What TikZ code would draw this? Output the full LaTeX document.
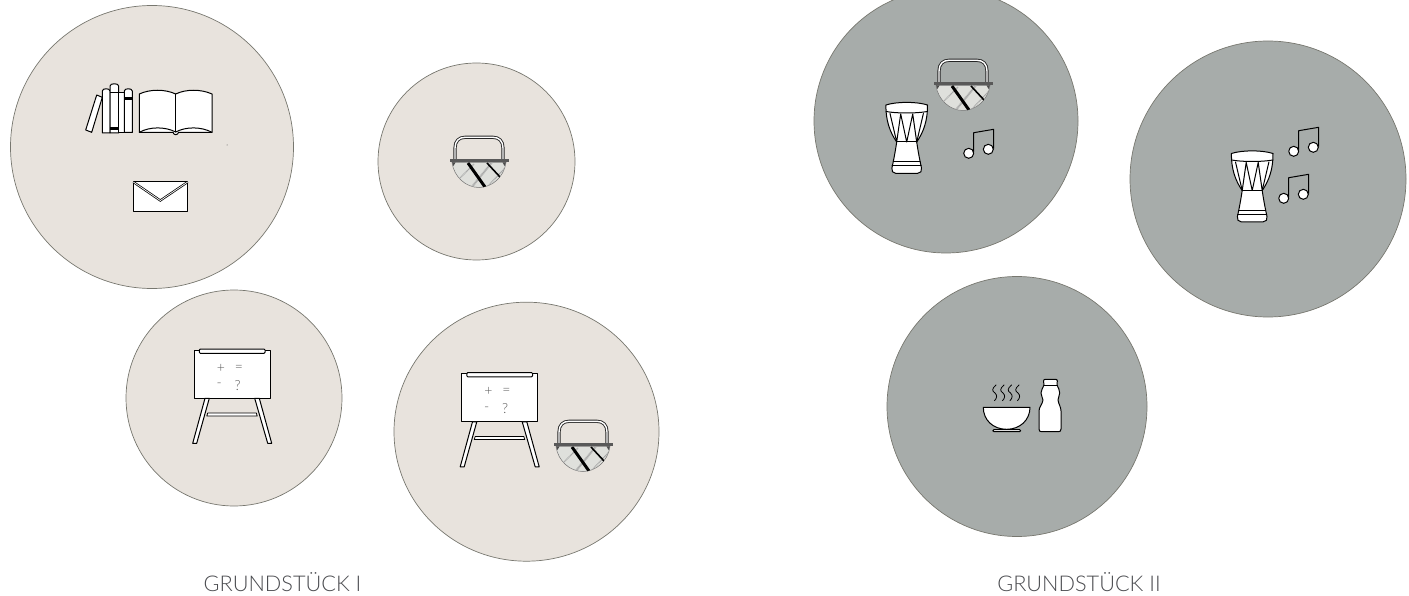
\documentclass[tikz,border=0pt]{standalone}
\usepackage{fontspec}
\usetikzlibrary{shapes.geometric}
\setmainfont{Lato Light}
\definecolor{lightfill}{HTML}{E8E3DD}
\definecolor{darkfill}{HTML}{A7ACAA}
\definecolor{rimgray}{HTML}{77776F}
\definecolor{labelgray}{HTML}{4A4B4F}
\definecolor{basketgray}{HTML}{DFE0DC}
\tikzset{
  x=1pt,y=-1pt,
  plate/.style={circle,draw=rimgray,line width=0.7pt,inner sep=0pt},
  lightplate/.style={plate,fill=lightfill},
  darkplate/.style={plate,fill=darkfill},
  ink/.style={draw=black,fill=white,line width=1pt,line join=round,line cap=round},
  inkline/.style={draw=black,line width=1pt,line cap=round,line join=round},
  caption/.style={text=labelgray,font=\fontsize{21.7}{24}\selectfont,inner sep=0pt},
  boardtext/.style={text=black!65,font=\fontsize{14}{15}\selectfont,inner sep=0pt},
  basket/.pic={
    \draw[line width=3.2pt,draw=black!85,line cap=butt] (-24,0) -- (-24,-12) .. controls (-24,-19) and (-20,-22.7) .. (-14,-22.7) -- (14,-22.7) .. controls (20,-22.7) and (24,-19) .. (24,-12) -- (24,0);
    \draw[line width=1.4pt,draw=white] (-24,0) -- (-24,-12) .. controls (-24,-19) and (-20,-22.7) .. (-14,-22.7) -- (14,-22.7) .. controls (20,-22.7) and (24,-19) .. (24,-12) -- (24,0);
    \fill[basketgray,draw=black!55,line width=.5pt] (-27,2.5) .. controls (-25,17) and (-13,27.5) .. (0,27.5) .. controls (13,27.5) and (25,17) .. (27,2.5) -- cycle;
    \begin{scope}
      \clip (-27,2.5) .. controls (-25,17) and (-13,27.5) .. (0,27.5) .. controls (13,27.5) and (25,17) .. (27,2.5) -- cycle;
      \draw[black!35,line width=2pt,dash pattern=on 1pt off .6pt] (14,1) -- (-8,28);
      \draw[black!35,line width=1.2pt,dash pattern=on 1pt off .6pt] (-21,20) -- (-5,4);
      \draw[black!35,line width=1.2pt,dash pattern=on 1pt off .6pt] (8,27) -- (26,8);
      \draw[black,line width=3pt] (-11,3) -- (6,27);
      \draw[black,line width=1.6pt] (8,3) -- (21,17);
    \end{scope}
    \fill[black!65] (-29,-.6) rectangle (29.5,2.4);
    \fill[black!70] (-27,2.4) -- (-23.5,2.4) -- (-25.5,6) -- cycle (27,2.4) -- (23.5,2.4) -- (25.5,6) -- cycle;
  },
  board/.pic={
    \path[ink] (-38,-24) rectangle (38,24.3);
    \path[ink,rounded corners=1pt] (-32.7,-25) rectangle (33,-20.7);
    \path[ink] (-27,24.3) -- (-22.7,24.3) -- (-35.3,69.3) -- (-39.3,69.3) -- cycle;
    \path[ink] (22.7,24.3) -- (27.3,24.3) -- (39.7,69.3) -- (35.7,69.3) -- cycle;
    \path[ink,line width=.8pt] (-24.3,39) -- (24.3,39) -- (25.2,42) -- (-25.2,42) -- cycle;
    \node[boardtext] (-plus) at (-11,-5.7) {+};
    \node[boardtext] (-eq) at (7,-5.7) {=};
    \node[boardtext] (-minus) at (-12.7,11.5) {-};
    \node[boardtext] (-q) at (5.7,11.5) {?};
  },
  drum/.pic={
    \path[ink] (-20.8,-33) .. controls (-21,-18) and (-17,-6) .. (-10,4) .. controls (-11.5,14) and (-13,22) .. (-14.8,30) .. controls (-15.3,33) and (-14,35.3) .. (-11,35.3) -- (11,35.3) .. controls (14,35.3) and (15.3,33) .. (14.8,30) .. controls (13,22) and (11.5,14) .. (10,4) .. controls (17,-6) and (21,-18) .. (20.8,-33) .. controls (10,-36.5) and (-10,-36.5) .. (-20.8,-33) -- cycle;
    \draw[inkline] (-20.6,-26.5) .. controls (-10,-24.5) and (10,-24.5) .. (20.6,-26.5);
    \draw[inkline] (-16.7,-24.5) -- (-10,4) -- (-6,-24) -- (0,4) -- (6,-24) -- (10,4) -- (16.7,-24.5);
    \draw[inkline] (-10,4) -- (10,4);
    \draw[inkline] (-13.3,24) -- (13.3,24);
    \draw[inkline] (-14.5,28) -- (14.5,28);
  },
  notes/.pic={
    \draw[inkline] (5,-1.6) -- (5,-20.6) -- (25,-24) -- (25,-5);
    \path[ink] (0,0) circle (5);
    \path[ink] (19.6,-4) circle (5);
  },
}
\begin{document}
\begin{tikzpicture}
\useasboundingbox (0,0) rectangle (1409,596);
% plates
\node[lightplate,minimum size=283pt] (p1) at (152,147) {};
\node[lightplate,minimum size=197pt] (p2) at (476.5,161.5) {};
\node[lightplate,minimum size=216pt] (p3) at (234,398) {};
\node[lightplate,shape=ellipse,minimum width=265pt,minimum height=259pt] (p4) at (526.5,431.7) {};
\node[darkplate,minimum size=264pt] (p5) at (946,121) {};
\node[darkplate,shape=ellipse,minimum width=276pt,minimum height=276pt] (p6) at (1268,179) {};
\node[darkplate,minimum size=260pt] (p7) at (1017,406.5) {};
% books
\path[ink] (96.7,95) -- (102.3,97.3) -- (91.7,132.3) -- (85.7,130) -- cycle;
\path[ink] (102.3,91) .. controls (102.3,88) and (110,88) .. (110,91) -- (110,133) -- (102.3,133) -- cycle;
\path[ink] (110,86) .. controls (110,83) and (118.7,83) .. (118.7,86) -- (118.7,133) -- (110,133) -- cycle;
\path[ink] (118.7,93) -- (124.3,93) -- (124.3,133) -- (118.7,133) -- cycle;
\path[ink] (124.3,91) .. controls (124.3,88) and (132.3,88) .. (132.3,91) -- (132.3,132.5) -- (124.3,132.5) -- cycle;
\fill[black] (110,91.7) rectangle (118.7,93.5);
\fill[black] (110,127) rectangle (118.7,130);
\fill[black] (124.3,97.3) rectangle (132.3,100);
% open book
\path[ink] (139.3,94) .. controls (150,89) and (165,89) .. (175.7,94) .. controls (186,89) and (201,89) .. (212,94) -- (212,132.3) -- (178.5,132.3) .. controls (178,135.5) and (173.5,135.5) .. (173,132.3) -- (139.3,132.3) -- cycle;
\draw[inkline] (175.7,94) -- (175.7,132);
\draw[inkline] (139.3,132.3) .. controls (150,126.5) and (165,126.5) .. (175.7,132) .. controls (186,126.5) and (201,126.5) .. (212,132.3);
% envelope
\path[ink] (133.3,181.3) rectangle (187.7,211.3);
\draw[black,line width=2.2pt] (133.3,182) -- (160.3,200.5) -- (187.7,182);
\draw[white,line width=.7pt] (133.3,182) -- (160.3,200.5) -- (187.7,182);
\fill[black!70] (227,145) circle (.5);
% icons
\pic at (479,160) {basket};
\pic (b1) at (232,374) {board};
\pic (b2) at (499.5,397.5) {board};
\pic at (583,444) {basket};
\pic at (963,83) {basket};
\pic at (906.7,138) {drum};
\pic at (968.7,153.3) {notes};
\pic at (1252.2,186.5) {drum};
\pic at (1293.7,151.3) {notes};
\pic at (1283.7,198.3) {notes};
% bowl
\path[ink] (983.3,407.3) -- (1030,407.3) .. controls (1030,420) and (1020,429.3) .. (1006.7,429.3) .. controls (993,429.3) and (983.3,420) .. (983.3,407.3) -- cycle;
\path[ink] (994,429.5) -- (1019.5,429.5) .. controls (1021,430) and (1021,431.7) .. (1019.5,431.7) -- (994,431.7) .. controls (992.5,431.7) and (992.5,430) .. (994,429.5) -- cycle;
\foreach \sx [count=\si] in {995,1003,1010.5,1018}{
  \draw[black,line width=.8pt,line cap=round] (\sx+1,385) .. controls (\sx-3.5,389) and (\sx-3,391) .. (\sx,393) .. controls (\sx+2.5,395.5) and (\sx+2,398) .. (\sx-.5,400.7);
}
% bottle
\path[ink] (1044,385) -- (1043.5,381) .. controls (1043.5,379.6) and (1044.5,379.3) .. (1045.5,379.3) -- (1055.5,379.3) .. controls (1056.5,379.3) and (1057.3,379.6) .. (1057.3,381) -- (1057,385)
  .. controls (1058,388) and (1060,390) .. (1059.7,393) .. controls (1059.5,396) and (1058,398) .. (1058,400) .. controls (1058.5,404) and (1061,407) .. (1061,411) -- (1061,429) .. controls (1061,431) and (1060,431.7) .. (1058.5,431.7) -- (1041.5,431.7) .. controls (1040,431.7) and (1039,431) .. (1039,429) -- (1039,411) .. controls (1039,407) and (1042.5,404) .. (1043,400) .. controls (1043,398) and (1041,396) .. (1041,393) .. controls (1041,390) and (1043,388) .. (1044,385) -- cycle;
\draw[inkline] (1044,385) -- (1057,385);
% captions
\node[caption] (c1) at (282.5,582) {GRUNDSTÜCK I};
\node[caption] (c2) at (1079,582) {GRUNDSTÜCK II};
\end{tikzpicture}
\end{document}
